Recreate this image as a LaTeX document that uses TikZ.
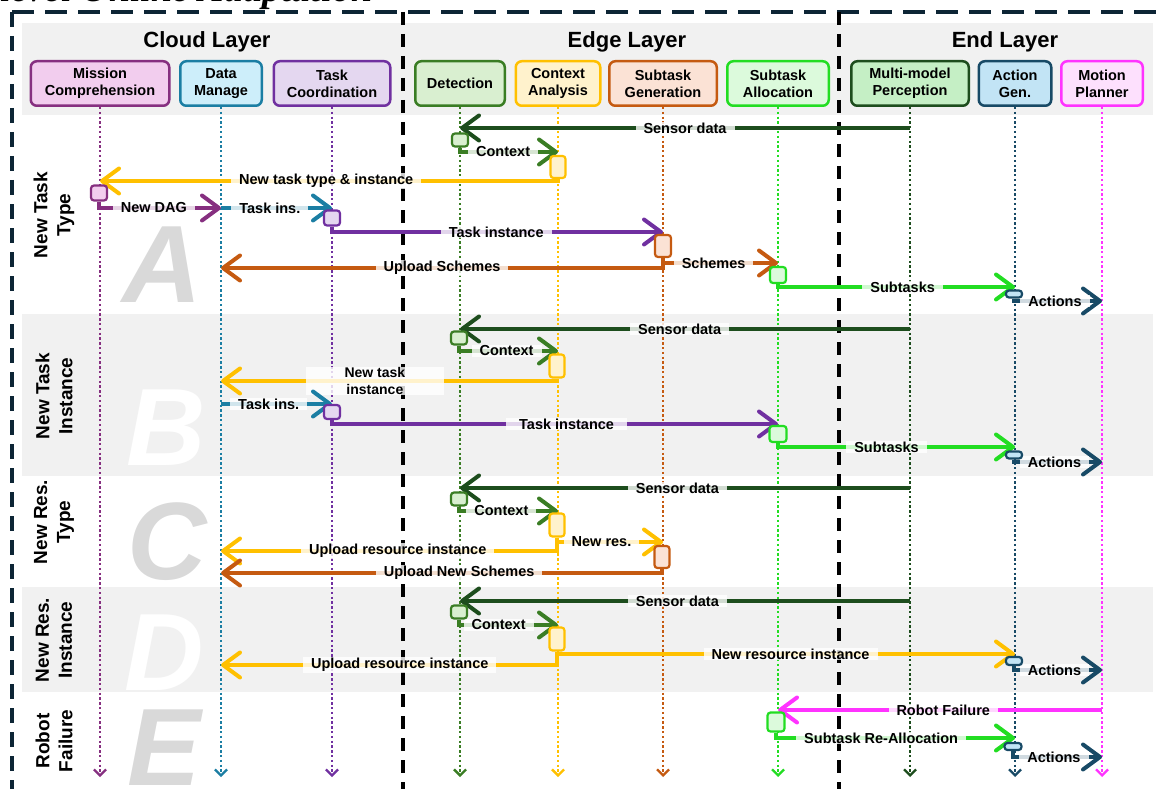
\documentclass[tikz,border=0pt]{standalone}
\usepackage{fontspec}
\setmainfont{Liberation Sans}
\newfontfamily\titlefont{Liberation Serif}
\usetikzlibrary{arrows.meta}

% lane colours: border / fill
\definecolor{mcC}{HTML}{862F80}\definecolor{mcF}{HTML}{F2CDEE}
\definecolor{dmC}{HTML}{1B7EA3}\definecolor{dmF}{HTML}{CDEEFA}
\definecolor{tcC}{HTML}{7030A0}\definecolor{tcF}{HTML}{E4D7F0}
\definecolor{detC}{HTML}{3A7D24}\definecolor{detF}{HTML}{D9EFD0}
\definecolor{caC}{HTML}{FFC000}\definecolor{caF}{HTML}{FFF2CC}
\definecolor{sgC}{HTML}{C55A11}\definecolor{sgF}{HTML}{FBE2D5}
\definecolor{saC}{HTML}{22DD22}\definecolor{saF}{HTML}{DCFADC}
\definecolor{mpC}{HTML}{1D4D1D}\definecolor{mpF}{HTML}{C5EFC5}
\definecolor{agC}{HTML}{184A66}\definecolor{agF}{HTML}{C2E4F5}
\definecolor{motC}{HTML}{FF33FF}\definecolor{motF}{HTML}{FDE0FD}
\definecolor{frameC}{HTML}{0D2535}
\definecolor{bandC}{HTML}{F1F1F1}
\definecolor{letterC}{HTML}{D9D9D9}

\pgfdeclarelayer{front}
\pgfsetlayers{main,front}

\begin{document}
\begin{tikzpicture}[x=1pt,y=-1pt,
  head/.style 2 args={draw=#1, fill=#2, line width=2.5pt, rounded corners=6pt,
    align=center, inner sep=0pt, minimum height=44.5pt,
    font=\fontsize{14.5}{17}\selectfont\bfseries},
  layertitle/.style={font=\fontsize{22}{24}\selectfont\bfseries},
  rowlbl/.style={rotate=90, align=center, font=\fontsize{19}{23}\selectfont\bfseries},
  bigletter/.style={anchor=base, font=\fontsize{110}{110}\selectfont\bfseries\itshape},
  life/.style={draw=#1, line width=2.3pt, dash pattern=on 2.3pt off 2.5pt,
    -{Straight Barb[length=6pt,width=12pt]}},
  act/.style 2 args={draw=#1, fill=#2, line width=2.2pt, rounded corners=3pt, inner sep=0pt},
  msg/.style={draw=#1, line width=4pt, -{Straight Barb[length=17pt,width=25pt,round]}},
  lbl/.style={fill=white, fill opacity=0.8, text opacity=1, inner xsep=8pt, inner ysep=1pt,
    font=\fontsize{14.5}{17}\selectfont\bfseries},
  sep/.style={draw=black, line width=3.5pt, dash pattern=on 13pt off 9pt},
]
\useasboundingbox (0,0) rectangle (1157,789);

% heading above the frame
\node[anchor=base west, font=\titlefont\bfseries\itshape\fontsize{38}{40}\selectfont] (title) at (-3,2) {level Online Adaptation};

% grey bands: header and alternating scenario rows
\fill[bandC] (22,23) rectangle (1153,115);
\fill[bandC] (22,314) rectangle (1153,476);
\fill[bandC] (22,587) rectangle (1153,692);

% scenario letters
\node[bigletter, text=letterC] (bigA) at (162,302) {A};
\node[bigletter, text=white]   (bigB) at (166,465) {B};
\node[bigletter, text=letterC] (bigC) at (167,579) {C};
\node[bigletter, text=white]   (bigD) at (164,690) {D};
\node[bigletter, text=letterC] (bigE) at (164,785) {E};

% outer dashed frame and layer separators
\draw[frameC, line width=3.5pt, dash pattern=on 22pt off 11pt] (12,12) -- (1170,12);
\draw[frameC, line width=3.5pt, dash pattern=on 15pt off 9pt] (12,12) -- (12,800);
\draw[sep] (403,12) -- (403,800);
\draw[sep] (839,12) -- (839,800);

% layer titles
\node[layertitle] (cloud) at (207,42) {Cloud Layer};
\node[layertitle] (edge) at (627,42) {Edge Layer};
\node[layertitle] (endl) at (1005,42) {End Layer};

% row captions
\node[rowlbl] (rA) at (54,215) {New Task\\Type};
\node[rowlbl] (rB) at (54,396) {New Task\\Instance};
\node[rowlbl] (rC) at (54,522) {New Res.\\Type};
\node[rowlbl] (rD) at (54,640) {New Res.\\Instance};
\node[rowlbl] (rE) at (54,741) {Robot\\Failure};

% participants
\node[head={mcC}{mcF}, minimum width=138.5pt] (mc) at (100,83.5) {Mission\\Comprehension};
\node[head={dmC}{dmF}, minimum width=81.5pt] (dm) at (221,83.5) {Data\\Manage};
\node[head={tcC}{tcF}, minimum width=116.5pt] (tc) at (332,83.5) {Task\\Coordination};
\node[head={detC}{detF}, minimum width=89.5pt] (det) at (460,83.5) {Detection};
\node[head={caC}{caF}, minimum width=84.5pt] (ca) at (558,83.5) {Context\\Analysis};
\node[head={sgC}{sgF}, minimum width=107.5pt] (sg) at (663,83.5) {Subtask\\Generation};
\node[head={saC}{saF}, minimum width=101.5pt] (sa) at (778,83.5) {Subtask\\Allocation};
\node[head={mpC}{mpF}, minimum width=117.5pt] (mp) at (910,83.5) {Multi-model\\Perception};
\node[head={agC}{agF}, minimum width=72.5pt] (ag) at (1015,83.5) {Action\\Gen.};
\node[head={motC}{motF}, minimum width=81.5pt] (mot) at (1102,83.5) {Motion\\Planner};

% lifelines
\coordinate (bot) at (0,777);
\foreach \n/\c in {mc/mcC, dm/dmC, tc/tcC, det/detC, ca/caC, sg/sgC, sa/saC, mp/mpC, ag/agC, mot/motC}
  \draw[life=\c] (\n.south) -- (\n.south |- bot);

% activation boxes
\begin{pgfonlayer}{front}
% A
\node[act={detC}{detF}, minimum width=16pt, minimum height=13pt] (dA) at (460,140) {};
\node[act={caC}{caF}, minimum width=15pt, minimum height=22pt] (cA) at (558,167) {};
\node[act={mcC}{mcF}, minimum width=16pt, minimum height=15pt] (mA) at (99,193) {};
\node[act={tcC}{tcF}, minimum width=16pt, minimum height=15pt] (tA) at (332,218) {};
\node[act={sgC}{sgF}, minimum width=16pt, minimum height=22pt] (gA) at (663,246) {};
\node[act={saC}{saF}, minimum width=16pt, minimum height=16pt] (sA) at (778,275) {};
\node[act={agC}{agF}, minimum width=16pt, minimum height=7pt] (aA) at (1014,294) {};
% B
\node[act={detC}{detF}, minimum width=16pt, minimum height=13pt] (dB) at (459,338) {};
\node[act={caC}{caF}, minimum width=15pt, minimum height=23pt] (cB) at (557,366) {};
\node[act={tcC}{tcF}, minimum width=16pt, minimum height=14pt] (tB) at (332,412) {};
\node[act={saC}{saF}, minimum width=17pt, minimum height=16pt] (sB) at (778,434) {};
\node[act={agC}{agF}, minimum width=16pt, minimum height=7pt] (aB) at (1014,455) {};
% C
\node[act={detC}{detF}, minimum width=16pt, minimum height=13pt] (dC) at (459,499) {};
\node[act={caC}{caF}, minimum width=15pt, minimum height=23pt] (cC) at (557,525) {};
\node[act={sgC}{sgF}, minimum width=15pt, minimum height=22pt] (gC) at (662,557) {};
% D
\node[act={detC}{detF}, minimum width=16pt, minimum height=13pt] (dD) at (459,612) {};
\node[act={caC}{caF}, minimum width=15pt, minimum height=23pt] (cD) at (557,639) {};
\node[act={agC}{agF}, minimum width=16pt, minimum height=8pt] (aD) at (1014,661) {};
% E
\node[act={saC}{saF}, minimum width=17pt, minimum height=19pt] (sE) at (776,722) {};
\node[act={agC}{agF}, minimum width=17pt, minimum height=7pt] (aE) at (1013,746.5) {};
\end{pgfonlayer}

% --- A: new task type
\draw[msg=mpC] (mp.south |- 0,128) -- node[lbl] {Sensor data} (det.south |- 0,128);
\draw[msg=detC] (dA.south) |- (ca.south |- 0,152) node[lbl, pos=0.72] {Context};
\draw[msg=caC] (cA.south) |- (mc.south |- 0,181) node[lbl, pos=0.753] {New task type \& instance};
\draw[msg=mcC] (mA.south) |- (dm.south |- 0,208) node[lbl, pos=0.725] {New DAG};
\draw[msg=dmC] (dm.south |- 0,208) -- node[lbl, pos=0.44] {Task ins.} (tc.south |- 0,208);
\draw[msg=tcC] (tA.south) |- (sg.south |- 0,232) node[lbl, pos=0.748] {Task instance};
\draw[msg=sgC] (gA.south) |- (dm.south |- 0,268) node[lbl, pos=0.75] {Upload Schemes};
\draw[msg=sgC] (gA.south) |- (sa.south |- 0,263) node[lbl, pos=0.72] {Schemes};
\draw[msg=saC] (sA.south) |- (ag.south |- 0,287) node[lbl, pos=0.763] {Subtasks};
\draw[msg=agC] (aA.south) |- (mot.south |- 0,301) node[lbl, pos=0.733] {Actions};

% --- B: new task instance
\draw[msg=mpC] (mp.south |- 0,329) -- node[lbl, pos=0.512] {Sensor data} (det.south |- 0,329);
\draw[msg=detC] (dB.south) |- (ca.south |- 0,351) node[lbl, pos=0.74] {Context};
\draw[msg=caC] (cB.south) |- (dm.south |- 0,381) node[lbl, pos=0.771, align=center, inner ysep=0pt, minimum width=138pt, font=\fontsize{14}{17}\selectfont\bfseries] {New task\\instance};
\draw[msg=dmC] (dm.south |- 0,404) -- node[lbl, pos=0.43] {Task ins.} (tc.south |- 0,404);
\draw[msg=tcC] (tB.south) |- (sa.south |- 0,424) node[lbl, pos=0.763, inner xsep=13pt] {Task instance};
\draw[msg=saC] (sB.south) |- (ag.south |- 0,447) node[lbl, pos=0.729] {Subtasks};
\draw[msg=agC] (aB.south) |- (mot.south |- 0,462) node[lbl, pos=0.73] {Actions};

% --- C: new resource type
\draw[msg=mpC] (mp.south |- 0,488) -- node[lbl, pos=0.517] {Sensor data} (det.south |- 0,488);
\draw[msg=detC] (dC.south) |- (ca.south |- 0,511) node[lbl, pos=0.714] {Context};
\draw[msg=caC] (cC.south) |- (sg.south |- 0,542) node[lbl, pos=0.71] {New res.};
\draw[msg=caC] (cC.south) |- (dm.south |- 0,551) node[lbl, pos=0.737] {Upload resource instance};
\draw[msg=sgC] (gC.south) |- (dm.south |- 0,573) node[lbl, pos=0.73] {Upload New Schemes};

% --- D: new resource instance
\draw[msg=mpC] (mp.south |- 0,601) -- node[lbl, pos=0.517] {Sensor data} (det.south |- 0,601);
\draw[msg=detC] (dD.south) |- (ca.south |- 0,625) node[lbl, pos=0.70] {Context};
\draw[msg=caC] (cD.south) |- (ag.south |- 0,654) node[lbl, pos=0.755] {New resource instance};
\draw[msg=caC] (cD.south) |- (dm.south |- 0,665) node[lbl, pos=0.734] {Upload resource instance};
\draw[msg=agC] (aD.south) |- (mot.south |- 0,670) node[lbl, pos=0.73] {Actions};

% --- E: robot failure
\draw[msg=motC] (mot.south |- 0,710) -- node[lbl, pos=0.49] {Robot Failure} (sa.south |- 0,710);
\draw[msg=saC] (sE.south) |- (ag.south |- 0,738) node[lbl, pos=0.72] {Subtask Re-Allocation};
\draw[msg=agC] (aE.south) |- (mot.south |- 0,757) node[lbl, pos=0.73] {Actions};
\end{tikzpicture}
\end{document}
